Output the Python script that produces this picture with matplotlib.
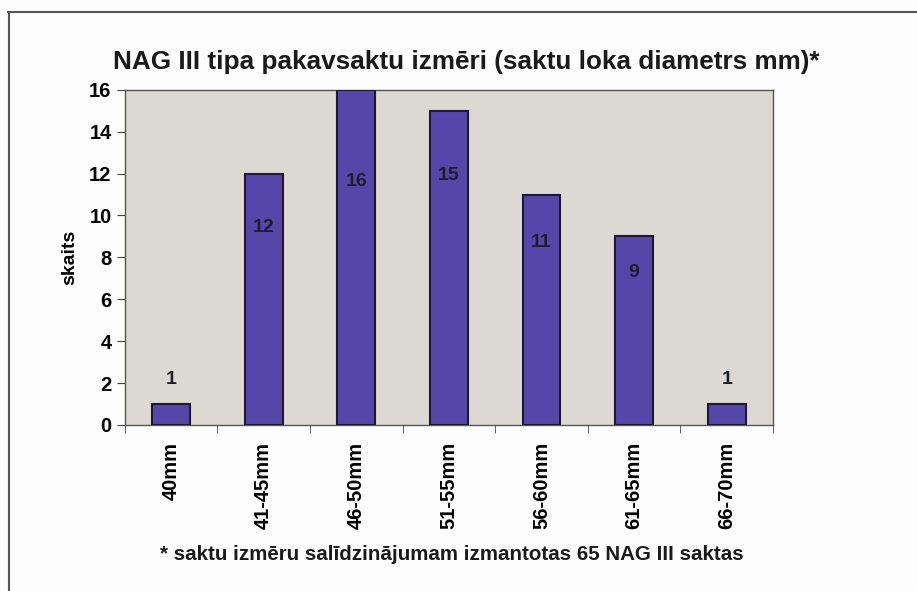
import numpy as np
import matplotlib.pyplot as plt
from matplotlib.lines import Line2D

categories = ['40mm', '41-45mm', '46-50mm', '51-55mm', '56-60mm', '61-65mm', '66-70mm']
counts = [1, 12, 16, 15, 11, 9, 1]
# where the value labels sit (in data units)
label_y = [2.15, 9.45, 11.6, 11.9, 8.7, 7.3, 2.15]

plt.rcParams['font.family'] = ['Liberation Sans', 'DejaVu Sans']
plt.rcParams['font.weight'] = 'bold'
plt.rcParams['axes.labelweight'] = 'bold'

fig = plt.figure(figsize=(9.17, 5.91), dpi=100, facecolor='#fdfdfd')
ax = fig.add_axes([0.136, 0.281, 0.707, 0.567])
ax.set_facecolor('#dcd8d2')

x = np.arange(len(categories))
ax.bar(x, counts, width=0.41, color='#5746aa', edgecolor='#1c1830', linewidth=1.5, zorder=3)

for xi, c, ly in zip(x, counts, label_y):
    ax.text(xi, ly, str(c), ha='center', va='center', fontsize=14,
            fontweight='bold', color='#1e1e2a', zorder=4)

ax.set_xlim(-0.5, len(categories) - 0.5)
ax.set_ylim(0, 16)
ax.set_yticks(range(0, 17, 2))
ax.set_xticks(x)
ax.set_xticklabels(categories, rotation=90, fontsize=14.5)
ax.set_xticks(np.arange(-0.5, len(categories)), minor=True)
ax.tick_params(axis='x', which='major', length=0, pad=12)
ax.tick_params(axis='x', which='minor', length=6, direction='out', color='#444444')
ax.tick_params(axis='y', length=6, direction='out', labelsize=14.5, color='#444444')
ax.set_ylabel('skaits', fontsize=14, labelpad=8)
for s in ax.spines.values():
    s.set_color('#555555')
    s.set_linewidth(1.0)

fig.text(0.508, 0.895, 'NAG III tipa pakavsaktu izmēri (saktu loka diametrs mm)*',
         ha='center', va='center', fontsize=18.8, fontweight='bold', color='#1a1a1a')
fig.text(0.493, 0.062, '* saktu izmēru salīdzinājumam izmantotas 65 NAG III saktas',
         ha='center', va='center', fontsize=14.8, fontweight='bold', color='#1a1a1a')

# outer frame of the scanned figure
fig.add_artist(Line2D([0.009, 1.0], [0.979, 0.979], color='#555555', linewidth=1.5))
fig.add_artist(Line2D([0.010, 0.010], [0.0, 0.979], color='#555555', linewidth=1.5))

fig.savefig('out.png', dpi=100, facecolor=fig.get_facecolor())
